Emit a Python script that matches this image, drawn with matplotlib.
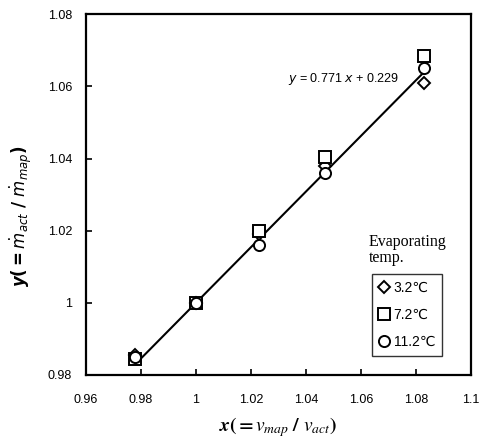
import matplotlib
matplotlib.use("Agg")
import matplotlib.pyplot as plt
import numpy as np

# Data
x_vals = [0.978, 1.000, 1.023, 1.047, 1.083]
y_32 = [0.9855, 1.000, 1.019, 1.038, 1.061]
y_72 = [0.9843, 1.000, 1.020, 1.0405, 1.0685]
y_112 = [0.985, 1.000, 1.016, 1.036, 1.065]
labels = ["3.2℃", "7.2℃", "11.2℃"]
slope, intercept = 0.771, 0.229
fit_x = [0.978, 1.083]
xticks = [0.96, 0.98, 1.00, 1.02, 1.04, 1.06, 1.08, 1.10]
xtick_labels = ["0.96", "0.98", "1", "1.02", "1.04", "1.06", "1.08", "1.1"]
yticks = [0.98, 1.00, 1.02, 1.04, 1.06, 1.08]
ytick_labels = ["0.98", "1", "1.02", "1.04", "1.06", "1.08"]

plt.rcParams['font.family'] = ['Liberation Sans', 'DejaVu Sans']

fig = plt.figure(figsize=(4.83, 4.43), dpi=100)
ax = fig.add_axes([0.178, 0.1535, 0.797, 0.8145])

fx = np.array(fit_x)
ax.plot(fx, slope * fx + intercept, color='black', lw=1.5, zorder=2)

mk = dict(mfc='white', mec='black', mew=1.4, ls='none', zorder=3)
ax.plot(x_vals, y_32, marker='D', ms=6.5, label=labels[0], **mk)
ax.plot(x_vals, y_72, marker='s', ms=8, label=labels[1], **mk)
ax.plot(x_vals, y_112, marker='o', ms=8, label=labels[2], **mk)

ax.set_xlim(0.96, 1.10)
ax.set_ylim(0.98, 1.08)
ax.set_xticks(xticks)
ax.set_xticklabels(xtick_labels)
ax.set_yticks(yticks)
ax.set_yticklabels(ytick_labels)
ax.tick_params(direction='in', length=4, width=1.2, labelsize=9, pad=10)
ax.tick_params(axis='x', pad=14)
for s in ax.spines.values():
    s.set_linewidth(1.6)

ax.text(0.525, 0.82, r"$y$ = 0.771 $x$ + 0.229", transform=ax.transAxes,
        fontsize=9, ha='left', va='center')

ax.set_xlabel(r"$\boldsymbol{x(=v_{map}\ /\ v_{act})}$", fontsize=14,
              math_fontfamily='stix', labelpad=6)
ax.set_ylabel(r"$\boldsymbol{y(=\dot{m}_{act}\ /\ \dot{m}_{map})}$", fontsize=12,
              math_fontfamily='dejavusans')
ax.yaxis.set_label_coords(-0.135, 0.44)

leg = ax.legend(loc='lower left', bbox_to_anchor=(0.743, 0.053), frameon=True,
                fancybox=False, edgecolor='black', fontsize=10,
                handlelength=0.8, handletextpad=0.25, labelspacing=0.95,
                borderpad=0.5, borderaxespad=0, markerscale=1.0)
leg.get_frame().set_linewidth(1.0)

ax.text(0.735, 0.39, "Evaporating\ntemp.", transform=ax.transAxes,
        fontsize=11.5, family='Liberation Serif', ha='left', va='top',
        linespacing=1.0)

fig.savefig("out.png", dpi=100)
